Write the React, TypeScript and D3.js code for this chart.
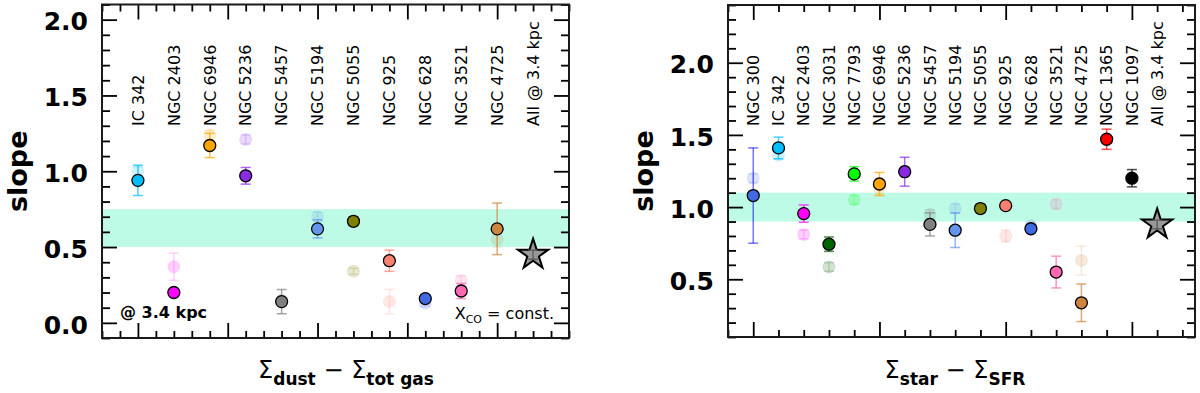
import React, { useEffect, useRef } from 'react';
import * as d3 from 'd3';

// ---- left panel: dust vs total gas ----
const leftGalaxies = ['IC 342', 'NGC 2403', 'NGC 6946', 'NGC 5236', 'NGC 5457', 'NGC 5194',
  'NGC 5055', 'NGC 925', 'NGC 628', 'NGC 3521', 'NGC 4725'];
const leftColors = ['#00BFFF', '#FF00FF', '#FFA500', '#8A2BE2', '#808080', '#6495ED',
  '#808000', '#FA8072', '#4169E1', '#FF69B4', '#CD853F'];
const leftSlope = [0.94, 0.20, 1.17, 0.97, 0.14, 0.62, 0.67, 0.41, 0.16, 0.21, 0.62];
const leftErr = [0.10, 0.02, 0.08, 0.055, 0.08, 0.06, 0.03, 0.07, 0.02, 0.05, 0.17];
const leftFaint = [1.00, 0.37, 1.24, 1.21, 0.15, 0.70, 0.34, 0.14, 0.13, 0.28, 0.55];
const leftFaintErr = [0.03, 0.09, 0.03, 0.03, 0.02, 0.03, 0.02, 0.08, 0.02, 0.03, 0.05];
const leftAll = [0.45, 0.03];
const leftBand = [0.5, 0.75];

// ---- right panel: stars vs SFR ----
const rightGalaxies = ['NGC 300', 'IC 342', 'NGC 2403', 'NGC 3031', 'NGC 7793', 'NGC 6946',
  'NGC 5236', 'NGC 5457', 'NGC 5194', 'NGC 5055', 'NGC 925', 'NGC 628', 'NGC 3521',
  'NGC 4725', 'NGC 1365', 'NGC 1097'];
const rightColors = ['#4169E1', '#00BFFF', '#FF00FF', '#006400', '#00FF00', '#FFA500',
  '#8A2BE2', '#808080', '#6495ED', '#808000', '#FA8072', '#4169E1', '#FF69B4',
  '#CD853F', '#FF0000', '#000000'];
const rightErrColors = ['#0000FF', null, null, null, null, null, null, null, null, null,
  null, null, null, null, null, null];
const rightSlope = [1.08, 1.41, 0.955, 0.743, 1.23, 1.16, 1.245, 0.88, 0.84, 0.99, 1.01,
  0.85, 0.55, 0.337, 1.47, 1.20];
const rightErr = [0.33, 0.075, 0.06, 0.05, 0.05, 0.08, 0.10, 0.08, 0.12, 0.03, 0.02,
  0.02, 0.11, 0.13, 0.07, 0.06];
const rightFaint = [1.20, 1.36, 0.81, 0.585, 1.05, 1.13, 1.25, 0.95, 0.99, 0.99, 0.80,
  0.87, 1.02, 0.63, null, null];
const rightFaintErr = [0.03, 0.03, 0.03, 0.03, 0.03, 0.04, 0.03, 0.03, 0.03, 0.02, 0.04,
  0.02, 0.03, 0.10, 0, 0];
const rightAll = [0.88, 0.03];
const rightBand = [0.9, 1.1];

const FONT = 'DejaVu Sans, sans-serif';

type PanelCfg = {
  left: number; right: number; top: number; bottom: number;
  xDomain: [number, number]; yDomain: [number, number];
  xMajor: number; xMinor: number; yMajor: number[];
  names: string[]; colors: string[]; errColors?: (string | null)[];
  slope: number[]; err: number[]; faint: (number | null)[]; faintErr: number[];
  all: number[]; band: number[];
  sub1: string; sub2: string; xlabelX: number;
};

function drawPanel(svg: any, c: PanelCfg) {
  const x = d3.scaleLinear().domain(c.xDomain).range([c.left, c.right]);
  const y = d3.scaleLinear().domain(c.yDomain).range([c.bottom, c.top]);
  const g = svg.append('g');

  // band of expected slope
  g.append('rect')
    .attr('x', c.left).attr('width', c.right - c.left)
    .attr('y', y(c.band[1])).attr('height', y(c.band[0]) - y(c.band[1]))
    .attr('fill', '#BDFBE6');

  // ticks (inward, all four sides)
  const xMaj = d3.range(Math.ceil(c.xDomain[0] / c.xMajor) * c.xMajor, c.xDomain[1] + 1e-6, c.xMajor);
  const xMin = d3.range(Math.ceil(c.xDomain[0] / c.xMinor) * c.xMinor, c.xDomain[1] + 1e-6, c.xMinor)
    .filter((v) => !xMaj.some((m) => Math.abs(m - v) < 1e-6));
  const yMin = d3.range(Math.ceil(c.yDomain[0] * 10 - 1e-6), Math.floor(c.yDomain[1] * 10 + 1e-6) + 1)
    .map((v) => v / 10)
    .filter((v) => !c.yMajor.some((m) => Math.abs(m - v) < 1e-6));

  const axes: [any, number[]][] = [
    [d3.axisBottom(x).tickValues(xMaj).tickSize(-15), [0, c.bottom]],
    [d3.axisBottom(x).tickValues(xMin).tickSize(-7), [0, c.bottom]],
    [d3.axisTop(x).tickValues(xMaj).tickSize(-15), [0, c.top]],
    [d3.axisTop(x).tickValues(xMin).tickSize(-7), [0, c.top]],
    [d3.axisLeft(y).tickValues(c.yMajor).tickSize(-15), [c.left, 0]],
    [d3.axisLeft(y).tickValues(yMin).tickSize(-8), [c.left, 0]],
    [d3.axisRight(y).tickValues(c.yMajor).tickSize(-15), [c.right, 0]],
    [d3.axisRight(y).tickValues(yMin).tickSize(-8), [c.right, 0]],
  ];
  axes.forEach(([ax, t]) => {
    const a = g.append('g')
      .attr('transform', `translate(${t[0]},${t[1]})`)
      .call(ax.tickFormat(() => ''));
    a.select('.domain').remove();
    a.selectAll('line').attr('stroke', '#000').attr('stroke-width', 1.8);
  });

  // frame
  g.append('rect')
    .attr('x', c.left).attr('y', c.top)
    .attr('width', c.right - c.left).attr('height', c.bottom - c.top)
    .attr('fill', 'none').attr('stroke', '#1a1a1a').attr('stroke-width', 2);

  // y tick labels
  g.selectAll('text.ytl').data(c.yMajor).enter().append('text')
    .attr('class', 'ytl')
    .attr('x', c.left - 14).attr('y', (d: number) => y(d) + 2)
    .attr('dy', '0.35em')
    .attr('text-anchor', 'end')
    .attr('font-family', FONT).attr('font-weight', 'bold').attr('font-size', 25)
    .text((d: number) => d.toFixed(1));

  // y label
  g.append('text')
    .attr('transform', `translate(${c.left - 75},${(c.top + c.bottom) / 2}) rotate(-90)`)
    .attr('text-anchor', 'middle')
    .attr('font-family', FONT).attr('font-weight', 'bold').attr('font-size', 27)
    .text('slope');

  // x label
  const xl = g.append('text')
    .attr('x', c.xlabelX).attr('y', 378)
    .attr('text-anchor', 'middle')
    .attr('font-family', FONT).attr('font-size', 24);
  xl.append('tspan').text('Σ');
  xl.append('tspan').attr('font-size', 17).attr('font-weight', 'bold').attr('dy', 7).text(c.sub1);
  xl.append('tspan').attr('dy', -7).text(' − Σ');
  xl.append('tspan').attr('font-size', 17).attr('font-weight', 'bold').attr('dy', 7).text(c.sub2);

  // galaxy names
  const names = [...c.names, 'All @ 3.4 kpc'];
  g.selectAll('text.gname').data(names).enter().append('text')
    .attr('class', 'gname')
    .attr('transform', (_d: string, i: number) => `translate(${x(i)},126) rotate(-90)`)
    .attr('dy', '0.36em')
    .attr('font-family', FONT).attr('font-size', 16)
    .text((d: string) => d);

  const cap = 5;
  const drawErr = (gg: any, xi: number, v: number, e: number, col: string, op: number) => {
    if (!e) return;
    const eb = gg.append('g').attr('stroke', col).attr('stroke-opacity', op).attr('stroke-width', 1.5);
    eb.append('line').attr('x1', x(xi)).attr('x2', x(xi)).attr('y1', y(v - e)).attr('y2', y(v + e));
    eb.append('line').attr('x1', x(xi) - cap).attr('x2', x(xi) + cap).attr('y1', y(v - e)).attr('y2', y(v - e));
    eb.append('line').attr('x1', x(xi) - cap).attr('x2', x(xi) + cap).attr('y1', y(v + e)).attr('y2', y(v + e));
  };

  // faint points (alternative measurement)
  c.faint.forEach((v, i) => {
    if (v == null) return;
    drawErr(g, i, v, c.faintErr[i], c.colors[i], 0.18);
    g.append('circle').attr('cx', x(i)).attr('cy', y(v)).attr('r', 6)
      .attr('fill', c.colors[i]).attr('fill-opacity', 0.18)
      .attr('stroke', c.colors[i]).attr('stroke-opacity', 0.12);
  });

  // main points
  c.slope.forEach((v, i) => {
    const ec = (c.errColors && c.errColors[i]) || c.colors[i];
    drawErr(g, i, v, c.err[i], ec, c.errColors && c.errColors[i] ? 0.55 : 0.7);
    g.append('circle').attr('cx', x(i)).attr('cy', y(v)).attr('r', 6)
      .attr('fill', c.colors[i]).attr('stroke', '#000').attr('stroke-width', 1.3);
  });

  // all galaxies star
  const si = c.names.length;
  g.append('path')
    .attr('d', d3.symbol().type(d3.symbolStar).size(287)())
    .attr('transform', `translate(${x(si)},${y(c.all[0])})`)
    .attr('fill', '#999').attr('stroke', '#000').attr('stroke-width', 2);
  drawErr(g, si, c.all[0], c.all[1], '#555', 0.8);
}

export default function App() {
  const ref = useRef<SVGSVGElement>(null);

  useEffect(() => {
    document.body.style.margin = '0';
    const svg = d3.select(ref.current);
    svg.selectAll('*').remove();

    drawPanel(svg, {
      left: 102, right: 569, top: 4.5, bottom: 338,
      xDomain: [-1, 12], yDomain: [-0.1, 2.1],
      xMajor: 2.5, xMinor: 0.5, yMajor: [0, 0.5, 1, 1.5, 2],
      names: leftGalaxies, colors: leftColors,
      slope: leftSlope, err: leftErr, faint: leftFaint, faintErr: leftFaintErr,
      all: leftAll, band: leftBand, sub1: 'dust', sub2: 'tot gas', xlabelX: 346,
    });

    drawPanel(svg, {
      left: 728, right: 1195, top: 5, bottom: 337,
      xDomain: [-1, 17.5], yDomain: [0.1, 2.4],
      xMajor: 5, xMinor: 1, yMajor: [0.5, 1, 1.5, 2],
      names: rightGalaxies, colors: rightColors, errColors: rightErrColors,
      slope: rightSlope, err: rightErr, faint: rightFaint, faintErr: rightFaintErr,
      all: rightAll, band: rightBand, sub1: 'star', sub2: 'SFR', xlabelX: 955,
    });

    // annotations in left panel
    svg.append('text')
      .attr('x', 120).attr('y', 318)
      .attr('font-family', FONT).attr('font-weight', 'bold').attr('font-size', 16)
      .text('@ 3.4 kpc');
    const xco = svg.append('text')
      .attr('x', 554).attr('y', 319)
      .attr('text-anchor', 'end')
      .attr('font-family', FONT).attr('font-size', 16);
    xco.append('tspan').text('X');
    xco.append('tspan').attr('font-size', 11).attr('dy', 4).text('CO');
    xco.append('tspan').attr('dy', -4).text(' = const.');
  }, []);

  return (
    <svg ref={ref} width={1200} height={393} style={{ display: 'block', background: '#fff' }} />
  );
}
